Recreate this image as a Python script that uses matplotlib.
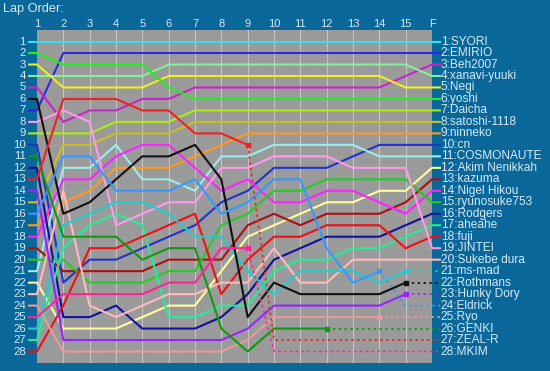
import matplotlib
matplotlib.use("Agg")
import matplotlib.pyplot as plt

plt.rcParams['font.family'] = ['Liberation Sans', 'DejaVu Sans']

lap_labels = [str(i) for i in range(1, 16)] + ['F']

names = ['SYORI', 'EMIRIO', 'Beh2007', 'xanavi-yuuki', 'Negi', 'yoshi', 'Daicha',
         'satoshi-1118', 'ninneko', 'cn', 'COSMONAUTE', 'Akim Nenikkah', 'kazuma',
         'Nigel Hikou', 'ryunosuke753', 'Rodgers', 'aheahe', 'fuji', 'JINTEI',
         'Sukebe dura', 'ms-mad', 'Rothmans', 'Hunky Dory', 'Eldrick', 'Ryo',
         'GENKI', 'ZEAL-R', 'MKIM']

# position at laps 1..15 and F
syori      = [1, 1, 1, 1, 1, 1, 1, 1, 1, 1, 1, 1, 1, 1, 1, 1]
emirio     = [7, 2, 2, 2, 2, 2, 2, 2, 2, 2, 2, 2, 2, 2, 2, 2]
beh2007    = [5, 8, 7, 7, 6, 6, 5, 5, 5, 5, 5, 5, 5, 5, 4, 3]
xanavi     = [4, 4, 4, 4, 4, 3, 3, 3, 3, 3, 3, 3, 3, 3, 3, 4]
negi       = [3, 5, 5, 5, 5, 4, 4, 4, 4, 4, 4, 4, 4, 4, 5, 5]
yoshi      = [2, 3, 3, 3, 3, 5, 6, 6, 6, 6, 6, 6, 6, 6, 6, 6]
daicha     = [9, 9, 9, 8, 8, 8, 7, 7, 7, 7, 7, 7, 7, 7, 7, 7]
satoshi    = [15, 10, 10, 9, 9, 9, 8, 8, 8, 8, 8, 8, 8, 8, 8, 8]
ninneko    = [17, 15, 14, 12, 12, 12, 11, 10, 9, 9, 9, 9, 9, 9, 9, 9]
cn         = [10, 22, 20, 20, 19, 18, 17, 15, 14, 12, 12, 12, 11, 10, 10, 10]
cosmonaute = [21, 12, 12, 10, 13, 13, 14, 11, 11, 10, 10, 10, 10, 11, 11, 11]
akim       = [22, 26, 26, 26, 25, 24, 24, 21, 18, 17, 16, 15, 15, 14, 14, 12]
kazuma     = [19, 21, 21, 21, 21, 20, 20, 20, 17, 16, 17, 16, 16, 16, 15, 13]
nigel      = [18, 13, 13, 11, 10, 10, 12, 14, 13, 15, 15, 14, 14, 15, 16, 14]
ryunosuke  = [20, 20, 22, 22, 22, 21, 21, 17, 16, 14, 14, 13, 13, 13, 13, 15]
rodgers    = [12, 25, 25, 24, 26, 26, 26, 25, 23, 20, 19, 18, 18, 18, 17, 16]
aheahe     = [27, 19, 17, 16, 17, 25, 25, 24, 24, 21, 20, 20, 19, 19, 18, 17]
fuji       = [28, 24, 19, 19, 18, 17, 16, 23, 20, 18, 18, 17, 17, 17, 19, 18]
jintei     = [8, 7, 8, 17, 16, 15, 15, 12, 12, 11, 11, 11, 12, 12, 12, 19]
sukebe     = [23, 14, 24, 25, 24, 23, 23, 22, 22, 19, 22, 22, 20, 20, 20, 20]
ms_mad     = [26, 17, 16, 15, 15, 16, 18, 18, 21, 23, 21, 21, 21, 22, 21, 21]
rothmans   = [6, 16, 15, 13, 11, 11, 10, 13, 25, 22, 23, 23, 23, 23, 22, 22]
hunky      = [14, 27, 27, 27, 27, 27, 27, 27, 26, 24, 24, 24, 24, 24, 23, 23]
eldrick    = [16, 11, 11, 14, 14, 14, 13, 16, 15, 13, 13, 19, 22, 21, 24, 24]
ryo        = [24, 28, 28, 28, 28, 28, 28, 28, 27, 25, 25, 25, 25, 25, 25, 25]
genki      = [11, 18, 18, 18, 20, 19, 19, 26, 28, 26, 26, 26, 26, 26, 26, 26]
zeal       = [13, 6, 6, 6, 7, 7, 9, 9, 10, 27, 27, 27, 27, 27, 27, 27]
mkim       = [25, 23, 23, 23, 23, 22, 22, 19, 19, 28, 28, 28, 28, 28, 28, 28]

# last lap driven (None = finished)
last_lap = [None] * 20 + [15, 15, 15, 14, 14, 12, 9, 9]

drivers = [syori, emirio, beh2007, xanavi, negi, yoshi, daicha, satoshi, ninneko, cn,
           cosmonaute, akim, kazuma, nigel, ryunosuke, rodgers, aheahe, fuji, jintei,
           sukebe, ms_mad, rothmans, hunky, eldrick, ryo, genki, zeal, mkim]

colors = ['#33dff0', '#2a2ae0', '#cc22cc', '#88ee99', '#eeee22', '#22ee22', '#aaee11',
          '#c8c020', '#ff9922', '#2233cc', '#99eeee', '#ffff99', '#aa1111', '#ff22ff',
          '#22cc22', '#111199', '#22ee99', '#ee1111', '#ff99ee', '#ffbbbb', '#22cccc',
          '#111111', '#9922ff', '#3399ff', '#ee9999', '#119911', '#ee2222', '#ff2299']

bg = '#0a6799'
txt = '#d4eaf8'

fig = plt.figure(figsize=(5.5, 3.71), dpi=100, facecolor=bg)
ax = fig.add_axes([37 / 550, 8 / 371, 395 / 550, 333.5 / 371])
ax.set_facecolor('#9a9a9a')
ax.set_xlim(1, 16)
ax.set_ylim(29, -0.05)
for s in ax.spines.values():
    s.set_visible(False)
ax.set_xticks([])
ax.set_yticks([])

for k in range(2, 16):
    ax.axvline(k, color='#c4c4c4', lw=0.8, zorder=1)
for r in range(1, 29):
    ax.axhline(r, color='#a8a8a8', lw=0.5, ls=(0, (1, 1.5)), zorder=1)

xs = list(range(1, 17))
for i, p in enumerate(drivers):
    c = colors[i]
    stop = last_lap[i]
    if stop is None:
        ax.plot([0.7] + xs + [16.3], [p[0]] + p + [p[-1]], color=c, lw=1.5,
                clip_on=False, zorder=3)
    else:
        ax.plot([0.7] + xs[:stop], [p[0]] + p[:stop], color=c, lw=1.5,
                clip_on=False, zorder=3)
        ax.plot(xs[stop - 1:] + [16.3], p[stop - 1:] + [p[-1]], color=c, lw=1.2,
                ls=(0, (1.5, 2)), clip_on=False, zorder=3)
        ax.plot(stop, p[stop - 1], 's', color=c, ms=3, zorder=4)

for k, lab in enumerate(lap_labels):
    ax.text(k + 1, -0.5, lab, ha='center', va='center', color=txt, fontsize=8,
            clip_on=False)
for r in range(1, 29):
    ax.text(0.58, r, str(r), ha='right', va='center', color=txt, fontsize=8.2,
            clip_on=False)

final = [p[-1] for p in drivers]
for i, n in enumerate(names):
    ax.text(16.33, final[i], '%d:%s' % (final[i], n), ha='left', va='center',
            color=txt, fontsize=8.6, clip_on=False)

fig.text(3 / 550, 1 - 9 / 371, 'Lap Order:', ha='left', va='center', color=txt,
         fontsize=9.2)

fig.savefig('out.png', dpi=100, facecolor=bg)
